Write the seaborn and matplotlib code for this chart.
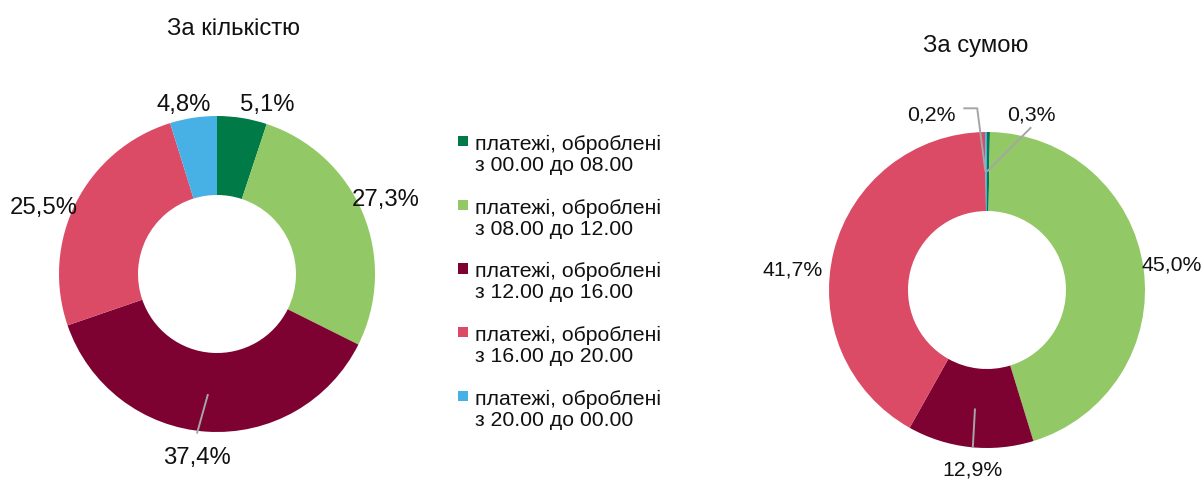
import numpy as np
import matplotlib
matplotlib.use("Agg")
import matplotlib.pyplot as plt
from matplotlib.patches import Rectangle, Wedge
from matplotlib.legend_handler import HandlerPatch
import seaborn as sns

sns.set_theme(style="white")
plt.rcParams["font.family"] = ["Liberation Sans", "DejaVu Sans"]

# Payment shares by processing time window
categories = [
    "платежі, оброблені\nз 00.00 до 08.00",
    "платежі, оброблені\nз 08.00 до 12.00",
    "платежі, оброблені\nз 12.00 до 16.00",
    "платежі, оброблені\nз 16.00 до 20.00",
    "платежі, оброблені\nз 20.00 до 00.00",
]
by_count = [5.1, 27.3, 37.4, 25.5, 4.8]
by_amount = [0.3, 45.0, 12.9, 41.7, 0.2]
titles = ["За кількістю", "За сумою"]

colors = ["#007A47", "#92C865", "#7D0232", "#DB4B66", "#47B1E6"]
leader_color = "#A6A6A6"
text_color = "#111111"

W, H = 1202, 481
fig = plt.figure(figsize=(W / 100, H / 100), dpi=100)

R_PX = 158.0
LIM = 1.3
side = 2 * LIM * R_PX
TEXT_DROP = 0.016  # visual centring of label glyphs


def donut_axes(cx, cy):
    return fig.add_axes([(cx - side / 2) / W, (H - cy - side / 2) / H, side / W, side / H])


def fmt(v):
    return f"{v:.1f}".replace(".", ",") + "%"


def draw_donut(ax, values, label_pos, leaders, label_size):
    wedges, _ = ax.pie(values, colors=colors, startangle=90, counterclock=False,
                       radius=1.0, wedgeprops=dict(width=0.5, linewidth=0))
    for i, v in enumerate(values):
        x, y = label_pos[i]
        ax.text(x, y - TEXT_DROP, fmt(v), ha="center", va="center",
                fontsize=label_size, color=text_color)
    for pts in leaders:
        xs, ys = zip(*pts)
        ax.plot(xs, ys, color=leader_color, lw=1.4, solid_capstyle="butt")
    ax.set_xlim(-LIM, LIM)
    ax.set_ylim(-LIM, LIM)
    ax.set_aspect("equal")
    ax.axis("off")
    return wedges


# Left donut: share by count
ax1 = donut_axes(217, 275)
left_labels = [(0.32, 1.09), (1.07, 0.49), (-0.13, -1.14), (-1.098, 0.437), (-0.21, 1.09)]
left_leaders = [[(-0.057, -0.76), (-0.127, -1.01)]]
wedges = draw_donut(ax1, by_count, left_labels, left_leaders, 17.2)

# Right donut: share by amount
ax2 = donut_axes(987, 291)
right_labels = [(0.28, 1.127), (1.168, 0.18), (-0.089, -1.12), (-1.231, 0.149), (-0.354, 1.127)]
right_leaders = [
    [(0.28, 1.03), (0.0, 0.75)],
    [(-0.076, -0.75), (-0.09, -1.0)],
    [(-0.15, 1.15), (-0.062, 1.15), (-0.01, 0.75)],
]
draw_donut(ax2, by_amount, right_labels, right_leaders, 15.3)

fig.text(233.5 / W, 1 - 29 / H, titles[0], ha="center", va="center", fontsize=17.2, color=text_color)
fig.text(975.5 / W, 1 - 46 / H, titles[1], ha="center", va="center", fontsize=17.2, color=text_color)


class TopSquare(HandlerPatch):
    """Square legend key aligned with the first line of a two-line label."""

    def create_artists(self, legend, orig_handle, xdescent, ydescent, width, height,
                       fontsize, trans):
        s = 0.48 * fontsize
        p = Rectangle((-xdescent, -ydescent + height / 2 - s / 2 + 0.6 * fontsize), s, s,
                      facecolor=orig_handle.get_facecolor(), edgecolor="none",
                      transform=trans)
        return [p]


leg = fig.legend(wedges, categories, loc="upper left",
                 bbox_to_anchor=(458 / W, 1 - 135 / H), frameon=False,
                 fontsize=15.3, handlelength=0.48, handleheight=0.48,
                 handletextpad=0.3, labelspacing=1.12, borderpad=0, borderaxespad=0,
                 handler_map={Wedge: TopSquare()})
for t in leg.get_texts():
    t.set_linespacing(1.12)
    t.set_color(text_color)

fig.savefig("out.png", dpi=100)
